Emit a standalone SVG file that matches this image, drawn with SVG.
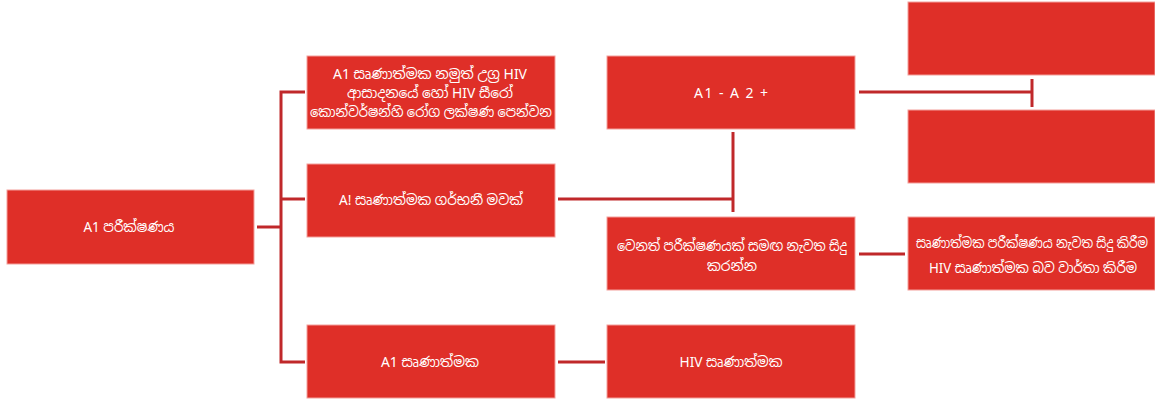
<svg xmlns="http://www.w3.org/2000/svg" width="1155" height="399" viewBox="0 0 1155 399">
<style>
.box{fill:#df2f28;stroke:#f3a09b;stroke-width:1}
.t{fill:#ffffff;font-family:"Noto Sans","Noto Sans Sinhala","DejaVu Sans",sans-serif;font-size:14px;text-anchor:middle}
.c{fill:none;stroke:#c0282a;stroke-width:3}
</style>
<rect width="1155" height="399" fill="#ffffff"/>
<g id="connectors">
<path class="c" d="M257,227 H281"/>
<path class="c" d="M305,92 H281 V362 H305"/>
<path class="c" d="M281,199 H305"/>
<path class="c" d="M558,199 H733"/>
<path class="c" d="M733,132 V212"/>
<path class="c" d="M859,92 H1032"/>
<path class="c" d="M1032,79 V107"/>
<path class="c" d="M859,254 H905"/>
<path class="c" d="M558,362 H605"/>
</g>
<g id="n-a1test"><rect class="box" x="7" y="190" width="247" height="74"/><text class="t" x="129" y="232" textLength="91" lengthAdjust="spacingAndGlyphs">A1 පරීක්ෂණය</text></g>
<g id="n-acute"><rect class="box" x="307" y="56" width="248" height="73"/><text class="t" x="430" y="79" textLength="194" lengthAdjust="spacingAndGlyphs">A1 සෘණාත්මක නමුත් උග්‍ර HIV</text><text class="t" x="430" y="98" textLength="166" lengthAdjust="spacingAndGlyphs">ආසාදනයේ හෝ HIV සීරෝ</text><text class="t" x="431" y="117" font-size="13" textLength="242" lengthAdjust="spacingAndGlyphs">කොන්වර්ෂන්හි රෝග ලක්ෂණ පෙන්වන</text></g>
<g id="n-pregnant"><rect class="box" x="307" y="164" width="248" height="73"/><text class="t" x="431" y="205" textLength="184" lengthAdjust="spacingAndGlyphs">A! සෘණාත්මක ගර්භනී  මවක්</text></g>
<g id="n-a1neg"><rect class="box" x="307" y="325" width="248" height="73"/><text class="t" x="430" y="367" textLength="98" lengthAdjust="spacingAndGlyphs">A1 සෘණාත්මක</text></g>
<g id="n-a1a2"><rect class="box" x="607" y="56" width="248" height="73"/><text class="t" x="731" y="98" font-size="15" textLength="74" lengthAdjust="spacing">A1 - A 2 +</text></g>
<g id="n-other"><rect class="box" x="607" y="217" width="248" height="73"/><text class="t" x="732" y="251" textLength="230" lengthAdjust="spacingAndGlyphs">වෙනත් පරීක්ෂණයක් සමඟ නැවත සිදු</text><text class="t" x="732" y="271" textLength="50" lengthAdjust="spacingAndGlyphs">කරන්න</text></g>
<g id="n-hivneg"><rect class="box" x="607" y="325" width="248" height="73"/><text class="t" x="731" y="367" textLength="103" lengthAdjust="spacingAndGlyphs">HIV සෘණාත්මක</text></g>
<g id="n-right1"><rect class="box" x="908" y="2" width="247" height="73"/></g>
<g id="n-right2"><rect class="box" x="908" y="110" width="247" height="73"/></g>
<g id="n-right3"><rect class="box" x="908" y="217" width="247" height="73"/><text class="t" x="1032" y="248" font-size="13" textLength="232" lengthAdjust="spacingAndGlyphs">සෘණාත්මක පරීක්ෂණය නැවත සිදු කිරීම</text><text class="t" x="1033" y="273" textLength="208" lengthAdjust="spacingAndGlyphs">HIV සෘණාත්මක බව වාර්තා කිරීම</text></g>
</svg>
